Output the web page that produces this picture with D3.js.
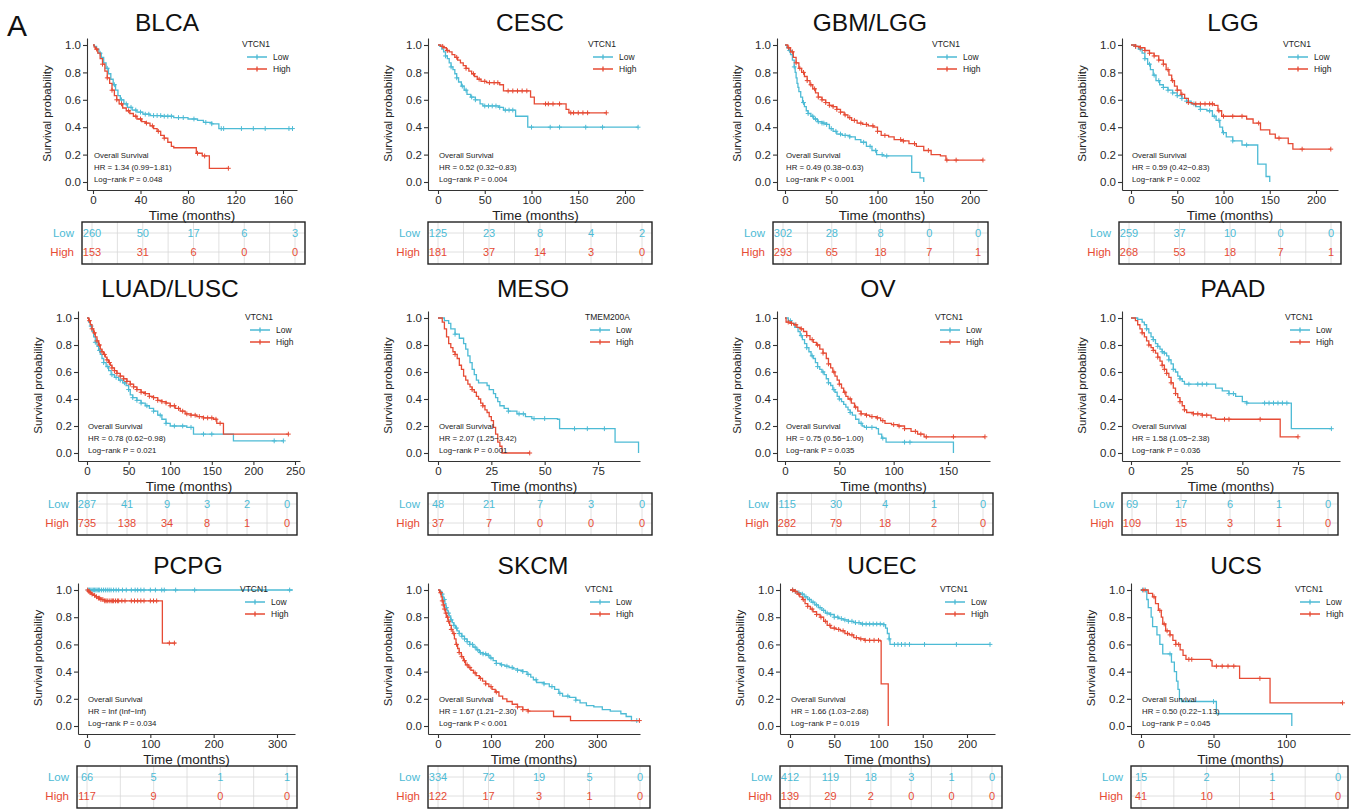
<!DOCTYPE html>
<html>
<head>
<meta charset="utf-8">
<script src="https://cdn.jsdelivr.net/npm/d3@7"></script>
<style>
  body { margin: 0; background: #fff; }
  svg { display: block; }
</style>
</head>
<body>
<svg id="fig" width="1356" height="810"></svg>
<script>
// ---------- panel labels ----------
const panelNames = ["BLCA", "CESC", "GBM/LGG", "LGG", "LUAD/LUSC", "MESO", "OV", "PAAD", "PCPG", "SKCM", "UCEC", "UCS"];
const legendTitles = ["VTCN1", "VTCN1", "VTCN1", "VTCN1", "VTCN1", "TMEM200A", "VTCN1", "VTCN1", "VTCN1", "VTCN1", "VTCN1", "VTCN1"];
const hrLabels = [
  "HR = 1.34 (0.99\u22121.81)", "HR = 0.52 (0.32\u22120.83)", "HR = 0.49 (0.38\u22120.63)", "HR = 0.59 (0.42\u22120.83)",
  "HR = 0.78 (0.62\u22120.98)", "HR = 2.07 (1.25\u22123.42)", "HR = 0.75 (0.56\u22121.00)", "HR = 1.58 (1.05\u22122.38)",
  "HR = Inf (Inf\u2212Inf)", "HR = 1.67 (1.21\u22122.30)", "HR = 1.66 (1.03\u22122.68)", "HR = 0.50 (0.22\u22121.13)"
];
const pLabels = [
  "Log\u2212rank P = 0.048", "Log\u2212rank P = 0.004", "Log\u2212rank P < 0.001", "Log\u2212rank P = 0.002",
  "Log\u2212rank P = 0.021", "Log\u2212rank P = 0.001", "Log\u2212rank P = 0.035", "Log\u2212rank P = 0.036",
  "Log\u2212rank P = 0.034", "Log\u2212rank P < 0.001", "Log\u2212rank P = 0.019", "Log\u2212rank P = 0.045"
];
const xTickValues = [
  [0, 40, 80, 120, 160], [0, 50, 100, 150, 200], [0, 50, 100, 150, 200], [0, 50, 100, 150, 200],
  [0, 50, 100, 150, 200, 250], [0, 25, 50, 75], [0, 50, 100, 150], [0, 25, 50, 75],
  [0, 100, 200, 300], [0, 100, 200, 300], [0, 50, 100, 150, 200], [0, 50, 100]
];
const yTickValues = [0, 0.2, 0.4, 0.6, 0.8, 1.0];

// ---------- numbers at risk ----------
const riskLow = [
  [260, 50, 17, 6, 3], [125, 23, 8, 4, 2], [302, 28, 8, 0, 0], [259, 37, 10, 0, 0],
  [287, 41, 9, 3, 2, 0], [48, 21, 7, 3, 0], [115, 30, 4, 1, 0], [69, 17, 6, 1, 0],
  [66, 5, 1, 1], [334, 72, 19, 5, 0], [412, 119, 18, 3, 1, 0], [15, 2, 1, 0]
];
const riskHigh = [
  [153, 31, 6, 0, 0], [181, 37, 14, 3, 0], [293, 65, 18, 7, 1], [268, 53, 18, 7, 1],
  [735, 138, 34, 8, 1, 0], [37, 7, 0, 0, 0], [282, 79, 18, 2, 0], [109, 15, 3, 1, 0],
  [117, 9, 0, 0], [122, 17, 3, 1, 0], [139, 29, 2, 0, 0, 0], [41, 10, 1, 0]
];

// ---------- survival curves: [months, survival] step points, censor times ----------
const blcaLow = [[0,1],[1,0.99],[3,0.97],[5,0.94],[7,0.91],[9,0.87],[11,0.83],[13,0.79],[15,0.75],[17,0.71],[19,0.67],[21,0.63],[23,0.6],[26,0.57],[29,0.545],[33,0.525],[37,0.51],[42,0.495],[48,0.485],[58,0.48],[68,0.47],[80,0.46],[88,0.45],[93,0.435],[100,0.425],[106,0.39],[168,0.39]];
const blcaLowCens = [6,12,18,24,28,32,36,40,44,47,51,54,57,60,63,66,72,76,85,95,100,108,110,125,135,145,165,168];
const blcaHigh = [[0,1],[1,0.985],[2,0.97],[4,0.94],[6,0.9],[8,0.86],[10,0.81],[12,0.76],[14,0.72],[16,0.67],[18,0.63],[20,0.6],[22,0.57],[25,0.54],[28,0.52],[31,0.5],[34,0.48],[37,0.46],[41,0.44],[44,0.43],[48,0.41],[51,0.39],[54,0.37],[57,0.34],[60,0.32],[63,0.29],[66,0.26],[68,0.25],[87,0.21],[92,0.19],[98,0.1],[114,0.1]];
const blcaHighCens = [3,8,12,16,20,24,30,36,40,45,50,55,60,88,94,114];

const cescLow = [[0,1],[2,0.99],[4,0.97],[6,0.95],[8,0.92],[10,0.9],[12,0.87],[14,0.84],[16,0.82],[18,0.79],[20,0.76],[22,0.73],[25,0.7],[28,0.67],[31,0.64],[35,0.62],[40,0.6],[45,0.57],[48,0.555],[65,0.545],[70,0.525],[83,0.48],[96,0.4],[214,0.4]];
const cescLowCens = [8,14,20,26,30,36,40,50,54,58,62,66,72,76,80,100,120,130,158,176,214];
const cescHigh = [[0,1],[3,0.99],[6,0.98],[9,0.96],[12,0.95],[15,0.93],[18,0.91],[21,0.89],[24,0.87],[27,0.85],[30,0.83],[33,0.81],[36,0.79],[39,0.77],[42,0.75],[46,0.735],[52,0.725],[66,0.71],[70,0.665],[99,0.62],[103,0.57],[137,0.53],[140,0.505],[180,0.505]];
const cescHighCens = [5,10,20,30,38,44,50,55,60,64,75,80,85,90,95,115,118,123,130,142,145,150,155,160,180];

const gbmLow = [[0,1],[2,0.98],[4,0.96],[6,0.93],[8,0.89],[10,0.84],[11,0.8],[12,0.76],[13,0.72],[14,0.69],[15,0.66],[17,0.62],[19,0.58],[21,0.55],[23,0.52],[25,0.5],[28,0.48],[31,0.46],[35,0.44],[40,0.43],[45,0.42],[48,0.39],[52,0.37],[56,0.35],[62,0.34],[70,0.33],[76,0.31],[82,0.29],[88,0.26],[94,0.23],[99,0.2],[106,0.19],[135,0.19],[137,0.07],[146,0.03],[150,0]];
const gbmLowCens = [5,10,20,25,30,33,36,40,42,45,50,55,60,65,70,85,92,98,105,110];
const gbmHigh = [[0,1],[3,0.98],[6,0.95],[9,0.91],[12,0.87],[15,0.83],[18,0.8],[21,0.77],[24,0.74],[27,0.71],[30,0.68],[33,0.65],[36,0.62],[40,0.6],[44,0.58],[48,0.56],[52,0.55],[56,0.53],[60,0.51],[64,0.49],[68,0.47],[72,0.45],[78,0.43],[84,0.42],[90,0.41],[96,0.4],[100,0.37],[104,0.34],[112,0.33],[118,0.31],[126,0.3],[134,0.28],[142,0.26],[150,0.23],[158,0.2],[168,0.19],[174,0.16],[214,0.16]];
const gbmHighCens = [4,8,12,16,20,24,28,32,36,40,44,48,52,56,60,65,70,75,82,88,95,100,108,125,128,140,155,175,185,214];

const lggLow = [[0,1],[4,0.99],[8,0.97],[12,0.94],[15,0.9],[18,0.86],[21,0.82],[24,0.78],[27,0.74],[31,0.71],[35,0.69],[40,0.67],[45,0.65],[50,0.63],[55,0.61],[60,0.59],[65,0.57],[70,0.55],[75,0.53],[82,0.52],[88,0.48],[92,0.45],[96,0.4],[99,0.36],[103,0.33],[110,0.3],[120,0.27],[135,0.27],[137,0.13],[146,0.04],[150,0]];
const lggLowCens = [5,10,15,20,25,30,35,40,45,50,55,60,68,75,85,90,95,100,110,125];
const lggHigh = [[0,1],[5,0.99],[10,0.98],[15,0.96],[20,0.94],[25,0.92],[30,0.89],[35,0.86],[38,0.82],[41,0.78],[44,0.74],[47,0.7],[50,0.67],[54,0.64],[58,0.61],[62,0.58],[66,0.57],[90,0.56],[94,0.52],[98,0.48],[125,0.46],[132,0.43],[140,0.38],[150,0.35],[156,0.32],[170,0.28],[175,0.24],[216,0.24]];
const lggHighCens = [5,10,15,20,25,30,35,40,45,50,55,62,70,75,80,85,88,95,100,110,120,138,160,185,216];

const luadLow = [[0,1],[2,0.97],[4,0.94],[6,0.9],[8,0.86],[10,0.82],[12,0.79],[14,0.76],[16,0.73],[18,0.7],[20,0.67],[23,0.64],[26,0.61],[29,0.58],[33,0.56],[38,0.54],[43,0.52],[47,0.5],[50,0.47],[52,0.43],[55,0.41],[60,0.39],[65,0.37],[70,0.35],[75,0.33],[80,0.31],[85,0.28],[90,0.25],[95,0.22],[100,0.2],[120,0.19],[128,0.14],[176,0.09],[236,0.09]];
const luadLowCens = [5,10,15,20,25,30,35,40,45,50,55,60,65,72,80,88,95,105,115,125,140,150,225,236];
const luadHigh = [[0,1],[2,0.98],[4,0.95],[6,0.92],[8,0.89],[10,0.86],[12,0.83],[14,0.8],[16,0.77],[18,0.75],[20,0.73],[22,0.71],[24,0.69],[26,0.67],[28,0.65],[30,0.63],[33,0.61],[36,0.59],[40,0.57],[44,0.55],[48,0.53],[52,0.51],[56,0.49],[60,0.47],[65,0.45],[70,0.44],[75,0.42],[80,0.41],[85,0.39],[90,0.38],[95,0.37],[100,0.35],[106,0.33],[112,0.31],[118,0.29],[125,0.28],[132,0.27],[140,0.26],[152,0.25],[156,0.22],[164,0.14],[242,0.14]];
const luadHighCens = [3,6,9,12,15,18,21,24,27,30,33,36,40,44,48,52,56,60,65,70,75,80,85,90,95,100,105,110,115,120,125,130,135,140,145,150,155,160,242];

const mesoLow = [[0,1],[3,0.98],[5,0.96],[6,0.92],[8,0.88],[10,0.85],[12,0.81],[13,0.77],[14,0.72],[15,0.67],[16,0.62],[17,0.58],[18,0.54],[19,0.52],[23,0.5],[24,0.47],[26,0.44],[27,0.41],[28,0.38],[29,0.35],[31,0.33],[33,0.31],[37,0.29],[41,0.27],[44,0.255],[56,0.25],[57,0.18],[82,0.18],[83,0.08],[93,0.08],[94,0]];
const mesoLowCens = [8,33,38,40,45,50,64,70,78];
const mesoHigh = [[0,1],[2,0.97],[3,0.92],[4,0.86],[5,0.81],[6,0.78],[7,0.75],[8,0.73],[9,0.7],[10,0.65],[11,0.62],[12,0.57],[13,0.54],[14,0.51],[15,0.49],[16,0.47],[17,0.45],[18,0.42],[19,0.4],[20,0.37],[21,0.35],[22,0.32],[23,0.3],[24,0.27],[25,0.24],[26,0.19],[27,0.14],[28,0.08],[29,0.05],[30,0],[43,0]];
const mesoHighCens = [8,16,21,43];

const ovLow = [[0,1],[3,0.98],[6,0.96],[9,0.93],[12,0.9],[14,0.87],[16,0.84],[18,0.81],[20,0.78],[22,0.75],[24,0.72],[26,0.7],[28,0.67],[30,0.64],[32,0.62],[34,0.6],[36,0.58],[38,0.55],[40,0.52],[42,0.5],[44,0.47],[46,0.45],[48,0.42],[50,0.4],[52,0.38],[54,0.36],[56,0.34],[58,0.32],[60,0.3],[62,0.28],[65,0.25],[68,0.22],[71,0.2],[73,0.19],[84,0.18],[86,0.14],[89,0.11],[93,0.08],[154,0.08],[155,0]];
const ovLowCens = [5,15,20,25,30,35,40,45,50,60,70,75,80,90,110,115];
const ovHigh = [[0,1],[1,0.97],[5,0.96],[8,0.95],[11,0.93],[14,0.92],[17,0.9],[20,0.87],[23,0.84],[26,0.82],[29,0.8],[32,0.77],[35,0.74],[38,0.7],[40,0.66],[42,0.63],[44,0.6],[46,0.57],[48,0.54],[50,0.51],[52,0.48],[54,0.45],[56,0.42],[58,0.4],[61,0.37],[64,0.34],[67,0.31],[70,0.29],[74,0.28],[78,0.27],[84,0.26],[88,0.24],[92,0.22],[98,0.21],[104,0.2],[110,0.18],[116,0.16],[122,0.14],[128,0.12],[184,0.12]];
const ovHighCens = [3,6,10,15,20,25,30,35,40,45,50,55,60,65,70,75,80,85,90,100,105,110,120,125,130,155,184];

const paadLow = [[0,1],[3,0.99],[5,0.97],[6,0.95],[7,0.92],[8,0.89],[9,0.86],[10,0.84],[11,0.81],[12,0.79],[13,0.77],[14,0.75],[15,0.74],[16,0.72],[17,0.69],[18,0.66],[19,0.62],[20,0.6],[21,0.57],[22,0.55],[23,0.53],[24,0.51],[36,0.51],[38,0.48],[41,0.46],[44,0.44],[47,0.42],[50,0.38],[52,0.37],[71,0.37],[72,0.18],[90,0.18]];
const paadLowCens = [7,10,12,14,15,17,19,22,26,30,32,34,44,46,52,60,62,64,66,68,70,90];
const paadHigh = [[0,1],[2,0.98],[3,0.95],[4,0.92],[5,0.89],[6,0.86],[7,0.83],[8,0.8],[9,0.78],[10,0.76],[11,0.74],[12,0.71],[13,0.68],[14,0.65],[15,0.62],[16,0.59],[17,0.56],[18,0.52],[19,0.48],[20,0.44],[21,0.41],[22,0.38],[23,0.35],[24,0.32],[25,0.3],[28,0.29],[32,0.28],[36,0.26],[38,0.25],[66,0.25],[67,0.12],[75,0.12]];
const paadHighCens = [5,8,10,12,14,15,16,18,20,22,24,28,30,32,34,42,44,58,75];

const pcpgLow = [[0,1],[325,1]];
const pcpgLowCens = [2,4,6,8,10,12,14,16,18,20,23,26,29,32,35,38,42,46,50,56,62,70,76,80,85,90,100,108,118,122,140,170,320];
const pcpgHigh = [[0,1],[2,0.99],[4,0.98],[7,0.97],[10,0.96],[14,0.95],[18,0.94],[22,0.93],[28,0.92],[118,0.92],[119,0.61],[140,0.61]];
const pcpgHighCens = [1,3,5,8,12,15,18,20,22,25,28,30,32,35,38,40,42,45,48,50,55,60,70,75,80,85,90,100,105,110,130,138];

const skcmLow = [[0,1],[4,0.99],[7,0.97],[9,0.95],[11,0.93],[13,0.9],[15,0.87],[17,0.85],[19,0.83],[21,0.81],[24,0.78],[27,0.76],[30,0.74],[33,0.72],[36,0.7],[40,0.68],[45,0.66],[50,0.64],[55,0.62],[60,0.6],[66,0.58],[72,0.56],[78,0.54],[85,0.53],[92,0.52],[98,0.5],[104,0.48],[110,0.46],[118,0.45],[126,0.44],[134,0.43],[142,0.42],[150,0.41],[160,0.4],[168,0.38],[175,0.36],[180,0.34],[186,0.32],[200,0.31],[210,0.29],[220,0.27],[228,0.24],[235,0.22],[248,0.21],[260,0.19],[268,0.17],[280,0.15],[294,0.14],[310,0.12],[325,0.11],[345,0.09],[355,0.07],[365,0.04],[380,0.04]];
const skcmLowCens = [8,12,16,20,25,30,35,40,45,50,55,60,65,70,75,80,85,90,95,100,110,120,130,140,150,160,170,185,200,215,230,245,260,375];
const skcmHigh = [[0,1],[3,0.98],[6,0.95],[8,0.92],[10,0.89],[12,0.86],[14,0.83],[16,0.8],[19,0.77],[22,0.74],[25,0.71],[28,0.68],[31,0.64],[34,0.6],[37,0.57],[40,0.54],[44,0.51],[48,0.48],[52,0.45],[57,0.43],[62,0.41],[67,0.39],[72,0.37],[78,0.35],[84,0.33],[90,0.31],[96,0.29],[102,0.27],[108,0.25],[115,0.22],[122,0.2],[130,0.18],[140,0.16],[150,0.14],[160,0.12],[170,0.11],[212,0.11],[218,0.07],[250,0.04],[380,0.04]];
const skcmHighCens = [5,8,10,12,15,18,20,25,30,35,40,45,50,55,60,70,80,90,100,110,150,160,170,380];

const ucecLow = [[0,1],[4,0.99],[8,0.98],[12,0.97],[16,0.95],[20,0.93],[24,0.91],[28,0.89],[32,0.87],[36,0.85],[40,0.83],[45,0.82],[50,0.8],[55,0.79],[60,0.78],[66,0.77],[72,0.76],[80,0.75],[106,0.745],[108,0.72],[110,0.68],[112,0.64],[113,0.6],[226,0.6]];
const ucecLowCens = [3,6,10,14,18,22,26,30,34,38,42,46,50,54,58,62,66,70,74,78,82,86,90,94,98,102,106,112,118,122,126,130,135,152,188,226];
const ucecHigh = [[0,1],[5,0.99],[8,0.97],[11,0.95],[14,0.93],[17,0.9],[20,0.88],[23,0.86],[26,0.84],[30,0.82],[34,0.8],[38,0.77],[42,0.74],[46,0.72],[52,0.71],[57,0.7],[62,0.68],[67,0.67],[72,0.65],[78,0.64],[84,0.63],[102,0.625],[103,0.31],[110,0.31],[111,0]];
const ucecHighCens = [3,6,10,15,20,25,30,35,40,45,50,55,60,65,70,75,80,85,90,95,100];

const ucsLow = [[0,1],[4,0.93],[5,0.87],[7,0.8],[8,0.73],[11,0.67],[13,0.6],[15,0.53],[21,0.47],[23,0.4],[24.5,0.33],[25.5,0.27],[26.5,0.2],[28,0.18],[52,0.09],[103,0.09],[104,0]];
const ucsLowCens = [1,3,20,50];
const ucsHigh = [[0,1],[5,0.975],[8,0.95],[10,0.9],[12,0.85],[14,0.8],[15,0.75],[17,0.7],[20,0.67],[22,0.63],[24,0.6],[27,0.56],[29,0.52],[31,0.49],[48,0.48],[49,0.44],[67,0.44],[68,0.35],[88,0.35],[89,0.17],[139,0.17]];
const ucsHighCens = [2,9,13,16,18,20,24,26,33,35,52,56,60,64,82,139];

const lowCurves = [blcaLow, cescLow, gbmLow, lggLow, luadLow, mesoLow, ovLow, paadLow, pcpgLow, skcmLow, ucecLow, ucsLow];
const lowCensors = [blcaLowCens, cescLowCens, gbmLowCens, lggLowCens, luadLowCens, mesoLowCens, ovLowCens, paadLowCens, pcpgLowCens, skcmLowCens, ucecLowCens, ucsLowCens];
const highCurves = [blcaHigh, cescHigh, gbmHigh, lggHigh, luadHigh, mesoHigh, ovHigh, paadHigh, pcpgHigh, skcmHigh, ucecHigh, ucsHigh];
const highCensors = [blcaHighCens, cescHighCens, gbmHighCens, lggHighCens, luadHighCens, mesoHighCens, ovHighCens, paadHighCens, pcpgHighCens, skcmHighCens, ucecHighCens, ucsHighCens];

// ---------- page geometry ----------
// ax: y-axis line, x0: pixel of month 0, tv/tx: last tick value and its pixel,
// xe: end of x-axis line, tl/tr: risk table box edges, tc: title centre
const layout = [
  { row: 0, ax: 87,   x0: 93,   tv: 160, tx: 283,  xe: 297,  tl: 82,   tr: 305,  tc: 167 },
  { row: 0, ax: 428,  x0: 438,  tv: 200, tx: 625,  xe: 643,  tl: 428,  tr: 652,  tc: 530 },
  { row: 0, ax: 777,  x0: 785,  tv: 200, tx: 970,  xe: 987,  tl: 773,  tr: 988,  tc: 870 },
  { row: 0, ax: 1122, x0: 1131, tv: 200, tx: 1316, xe: 1338, tl: 1119, tr: 1341, tc: 1233 },
  { row: 1, ax: 78,   x0: 87,   tv: 250, tx: 295,  xe: 300,  tl: 77,   tr: 297,  tc: 170 },
  { row: 1, ax: 428,  x0: 438,  tv: 75,  tx: 598,  xe: 640,  tl: 428,  tr: 652,  tc: 533 },
  { row: 1, ax: 777,  x0: 785,  tv: 150, tx: 948,  xe: 990,  tl: 777,  tr: 993,  tc: 878 },
  { row: 1, ax: 1122, x0: 1131, tv: 75,  tx: 1298, xe: 1340, tl: 1122, tr: 1338, tc: 1233 },
  { row: 2, ax: 78,   x0: 87,   tv: 300, tx: 277,  xe: 295,  tl: 77,   tr: 297,  tc: 188 },
  { row: 2, ax: 428,  x0: 438,  tv: 300, tx: 597,  xe: 640,  tl: 428,  tr: 650,  tc: 533 },
  { row: 2, ax: 780,  x0: 790,  tv: 200, tx: 967,  xe: 995,  tl: 780,  tr: 1002, tc: 882 },
  { row: 2, ax: 1131, x0: 1141, tv: 100, tx: 1286, xe: 1350, tl: 1131, tr: 1348, tc: 1236 }
];
const rows = [
  { title: 22,  y1: 45,  y0: 182 },
  { title: 288, y1: 318, y0: 453 },
  { title: 565, y1: 590, y0: 726 }
];

const COL_LOW = "#4DBBD5", COL_HIGH = "#E64B35";
const FONT = "'Liberation Sans', Arial, Helvetica, sans-serif";

const svg = d3.select("#fig").style("font-family", FONT);
svg.append("rect").attr("width", 1356).attr("height", 810).attr("fill", "#fff");

svg.append("text").attr("x", 7).attr("y", 36).attr("font-size", 30).attr("fill", "#111").text("A");

function survivalAt(steps, t) {
  let s = steps[0][1];
  for (const [tt, ss] of steps) { if (tt <= t) s = ss; else break; }
  return s;
}
function plusPath(px, py, r) {
  return `M${px - r},${py}h${2 * r}M${px},${py - r}v${2 * r}`;
}

panelNames.forEach((name, i) => {
  const L = layout[i], R = rows[L.row];
  const g = svg.append("g");

  const x = d3.scaleLinear().domain([0, L.tv]).range([L.x0, L.tx]);
  const y = d3.scaleLinear().domain([0, 1]).range([R.y0, R.y1]);
  const yBottom = R.y0 + 8, yTop = R.y1 - 7;

  // title
  g.append("text").attr("x", L.tc).attr("y", R.title).attr("text-anchor", "middle")
    .attr("dominant-baseline", "central").attr("font-size", 24.5).attr("fill", "#111").text(name);

  // axes (scales extended to the full axis-line length)
  const xa = x.copy().domain([x.invert(L.ax), x.invert(L.xe)]).range([L.ax, L.xe]);
  const ya = y.copy().domain([y.invert(yBottom), y.invert(yTop)]).range([yBottom, yTop]);

  const gx = g.append("g").attr("transform", `translate(0,${yBottom})`)
    .call(d3.axisBottom(xa).tickValues(xTickValues[i]).tickSizeOuter(0).tickSizeInner(4).tickPadding(2));
  const gy = g.append("g").attr("transform", `translate(${L.ax},0)`)
    .call(d3.axisLeft(ya).tickValues(yTickValues).tickFormat(d3.format(".1f")).tickSizeOuter(0).tickSizeInner(4).tickPadding(2));
  [gx, gy].forEach(a => {
    a.select(".domain").attr("stroke", "#333").attr("stroke-width", 1.1);
    a.selectAll(".tick line").attr("stroke", "#333").attr("stroke-width", 1.1);
    a.selectAll(".tick text").attr("font-family", FONT).attr("font-size", 11.5).attr("fill", "#2a2a2a");
  });

  g.append("text").attr("x", (L.ax + L.xe) / 2).attr("y", R.y0 + 33).attr("text-anchor", "middle")
    .attr("dominant-baseline", "central").attr("font-size", 13.5).attr("fill", "#222").text("Time (months)");
  g.append("text").attr("transform", `translate(${L.ax - 40},${(R.y0 + R.y1) / 2}) rotate(-90)`)
    .attr("text-anchor", "middle").attr("dominant-baseline", "central")
    .attr("font-size", 11.5).attr("fill", "#222").text("Survival probability");

  // curves
  const line = d3.line().curve(d3.curveStepAfter).x(d => x(d[0])).y(d => y(d[1]));
  [[lowCurves[i], lowCensors[i], COL_LOW], [highCurves[i], highCensors[i], COL_HIGH]].forEach(([steps, cens, col]) => {
    g.append("path").attr("d", line(steps)).attr("fill", "none").attr("stroke", col).attr("stroke-width", 1.3);
    g.append("path")
      .attr("d", cens.map(t => plusPath(x(t), y(survivalAt(steps, t)), 2.4)).join(""))
      .attr("fill", "none").attr("stroke", col).attr("stroke-width", 1);
  });

  // legend
  const lx = L.xe - 55;
  g.append("text").attr("x", lx).attr("y", R.y1 - 1).attr("dominant-baseline", "central")
    .attr("font-size", 8.5).attr("fill", "#222").text(legendTitles[i]);
  [["Low", COL_LOW, 12], ["High", COL_HIGH, 24]].forEach(([lab, col, dy]) => {
    const ly = R.y1 + dy;
    g.append("path").attr("d", `M${lx + 5},${ly}h20` + plusPath(lx + 15, ly, 2.4))
      .attr("stroke", col).attr("stroke-width", 1.3).attr("fill", "none");
    g.append("text").attr("x", lx + 31).attr("y", ly).attr("dominant-baseline", "central")
      .attr("font-size", 8.5).attr("fill", "#222").text(lab);
  });

  // statistics
  ["Overall Survival", hrLabels[i], pLabels[i]].forEach((t, k) => {
    g.append("text").attr("x", L.x0 + 1).attr("y", R.y0 - 27 + k * 12).attr("dominant-baseline", "central")
      .attr("font-size", 7.8).attr("fill", "#222").text(t);
  });

  // numbers-at-risk table
  const n = riskLow[i].length;
  const tx = d3.scaleLinear().domain([0, n - 1]).range([L.tl + 10, L.tr - 10]);
  const top = R.y0 + 40, bot = R.y0 + 82;
  const rowY = [R.y0 + 51, R.y0 + 70];
  const grid = g.append("g").attr("stroke", "#d8d8d8").attr("stroke-width", 0.8);
  d3.range(0, n - 0.5, 0.5).forEach(k => {
    grid.append("line").attr("x1", tx(k)).attr("x2", tx(k)).attr("y1", top).attr("y2", bot);
  });
  rowY.forEach(ry => grid.append("line").attr("x1", L.tl).attr("x2", L.tr).attr("y1", ry).attr("y2", ry));
  g.append("rect").attr("x", L.tl).attr("y", top).attr("width", L.tr - L.tl).attr("height", bot - top)
    .attr("fill", "none").attr("stroke", "#222").attr("stroke-width", 1.4);
  [[riskLow[i], "Low", COL_LOW, rowY[0]], [riskHigh[i], "High", COL_HIGH, rowY[1]]].forEach(([vals, lab, col, ry]) => {
    g.append("text").attr("x", L.tl - 8).attr("y", ry).attr("text-anchor", "end").attr("dominant-baseline", "central")
      .attr("font-size", 11.5).attr("fill", col).text(lab);
    g.selectAll(null).data(vals).enter().append("text")
      .attr("x", (d, k) => tx(k)).attr("y", ry).attr("text-anchor", "middle").attr("dominant-baseline", "central")
      .attr("font-size", 11).attr("fill", col).text(d => d);
  });
});
</script>
</body>
</html>
